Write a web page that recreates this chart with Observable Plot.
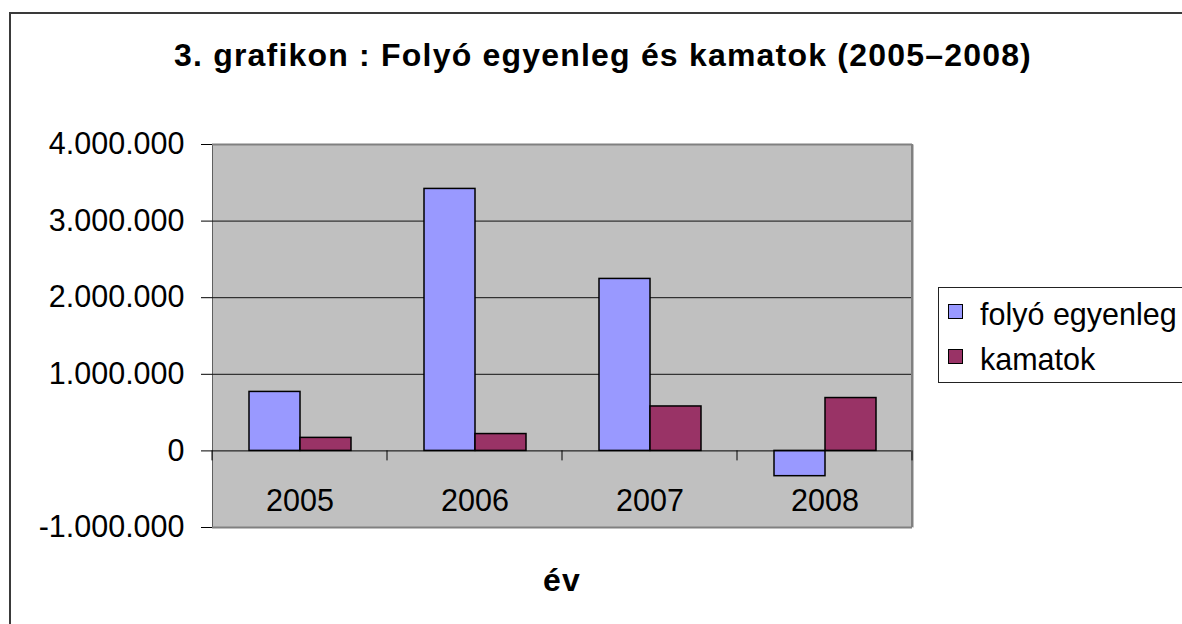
<!DOCTYPE html>
<html>
<head>
<meta charset="utf-8">
<script src="https://cdn.jsdelivr.net/npm/d3@7"></script>
<script src="https://cdn.jsdelivr.net/npm/@observablehq/plot@0.6"></script>
<style>
  html, body { margin: 0; padding: 0; background: #fff; }
  #wrap { position: relative; width: 1182px; height: 624px; overflow: hidden; background: #fff;
          font-family: "Liberation Sans", Arial, sans-serif; color: #000; }
  #border { position: absolute; left: 9px; top: 12px; width: 1300px; height: 700px;
            border-left: 2px solid #3a3a3a; border-top: 2px solid #3a3a3a; box-sizing: border-box; }
  #chart { position: absolute; left: 0; top: 0; }
  #title { position: absolute; left: 103px; width: 1000px; top: 39px; text-align: center;
           font-weight: bold; font-size: 32px; line-height: 32px; letter-spacing: 1.2px; white-space: nowrap; }
  #xlabel { position: absolute; left: 462px; width: 200px; top: 564px; text-align: center;
            font-weight: bold; font-size: 32px; line-height: 32px; letter-spacing: 1.2px; }
  #legend { position: absolute; left: 938px; top: 287px; width: 320px; height: 96px;
            border: 1px solid #222; box-sizing: border-box; padding-top: 4px; padding-left: 9px; background: #fff; }
  .item { display: flex; align-items: center; height: 45px; font-size: 30.5px; line-height: 45px; white-space: nowrap; }
  .sw { width: 15px; height: 15px; border: 1.5px solid #000; box-sizing: border-box; margin-right: 17px; transform: translateY(-3px); }
</style>
</head>
<body>
<div id="wrap">
  <div id="border"></div>
  <div id="chart"></div>
  <div id="title"></div>
  <div id="xlabel"></div>
  <div id="legend"></div>
</div>
<script>
// ---- data ----
const years = ["2005", "2006", "2007", "2008"];
const series = ["folyó egyenleg", "kamatok"];
const folyoEgyenleg = [770000, 3420000, 2245000, -330000];
const kamatok = [170000, 220000, 580000, 690000];
const yTicks = [-1000000, 0, 1000000, 2000000, 3000000, 4000000];
const gridValues = [1000000, 2000000, 3000000];
const colors = ["#9999FF", "#993366"];
const titleText = "3. grafikon : Folyó egyenleg és kamatok (2005–2008)";
const xTitle = "év";

const data = years.flatMap((yr, i) => [
  {year: yr, series: series[0], value: folyoEgyenleg[i]},
  {year: yr, series: series[1], value: kamatok[i]}
]);

const fmt = v => d3.format(",")(v).replace(/,/g, ".").replace("−", "-");

const plot = Plot.plot({
  width: 1182,
  height: 624,
  marginLeft: 211,
  marginRight: 269,
  marginTop: 144,
  marginBottom: 97,
  style: {fontFamily: "'Liberation Sans', Arial, sans-serif", fontSize: "30.5px", color: "#000", background: "transparent", overflow: "visible"},
  fx: {domain: years, padding: 0, axis: null},
  x: {domain: series, paddingInner: 0, paddingOuter: 0.6875, axis: null},
  y: {domain: [-1000000, 4000000], ticks: yTicks, tickFormat: fmt, tickSize: 11, tickPadding: 17, line: true, label: null},
  color: {domain: series, range: colors},
  marks: [
    Plot.frame({fill: "#c0c0c0", stroke: "none", insetRight: -1.5}),
    Plot.ruleY(gridValues, {stroke: "#111", strokeWidth: 1}),
    Plot.ruleY([yTicks[yTicks.length - 1], yTicks[0]], {stroke: "#808080", strokeWidth: 2}),
    Plot.barY(data, {fx: "year", x: "series", y: "value", fill: "series", stroke: "#000", strokeWidth: 1.5}),
    Plot.ruleY([0], {stroke: "#000", strokeWidth: 1}),
    Plot.text(years, {fx: d => d, text: d => d, frameAnchor: "bottom", lineAnchor: "bottom", dy: -17, fill: "#000"})
  ]
});

// boundary ticks on the zero line and right border of the plot area, from the plot's own scales
const fx = plot.scale("fx"), ys = plot.scale("y");
const svg = d3.select(plot);
const bounds = years.map(y => fx.apply(y)).concat([fx.apply(years[years.length - 1]) + fx.bandwidth]);
svg.append("line")
  .attr("x1", bounds[bounds.length - 1]).attr("x2", bounds[bounds.length - 1])
  .attr("y1", ys.apply(yTicks[yTicks.length - 1])).attr("y2", ys.apply(yTicks[0]))
  .attr("stroke", "#808080").attr("stroke-width", 2);
svg.append("g").selectAll("line").data(bounds).join("line")
  .attr("x1", d => d).attr("x2", d => d)
  .attr("y1", ys.apply(0)).attr("y2", ys.apply(0) + 10)
  .attr("stroke", "#000").attr("stroke-width", 1);

document.getElementById("chart").appendChild(plot);
document.getElementById("title").textContent = titleText;
document.getElementById("xlabel").textContent = xTitle;

const legend = document.getElementById("legend");
series.forEach((s, i) => {
  const row = document.createElement("div");
  row.className = "item";
  const sw = document.createElement("span");
  sw.className = "sw";
  sw.style.background = colors[i];
  const t = document.createElement("span");
  t.textContent = s;
  row.appendChild(sw);
  row.appendChild(t);
  legend.appendChild(row);
});
</script>
</body>
</html>
